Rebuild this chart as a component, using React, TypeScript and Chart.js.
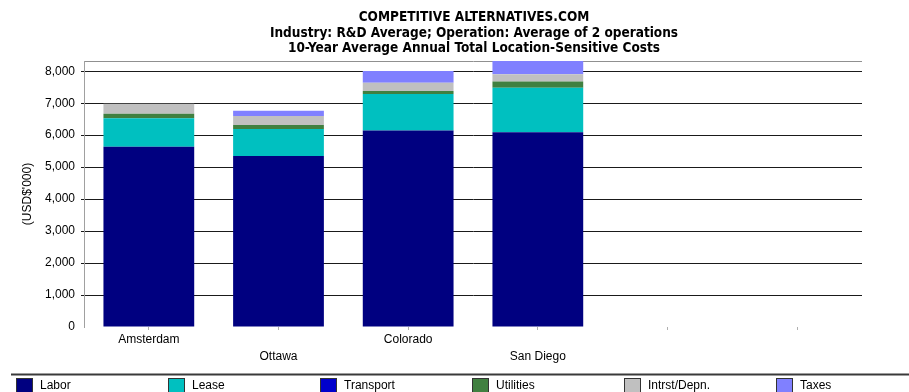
import React, { useEffect, useRef } from 'react';
import { Chart, registerables } from 'chart.js';

Chart.register(...registerables);

const titleLines = [
  'COMPETITIVE ALTERNATIVES.COM',
  'Industry: R&D Average; Operation: Average of 2 operations',
  '10-Year Average Annual Total Location-Sensitive Costs',
];
const categories = ['Amsterdam', 'Ottawa', 'Colorado', 'San Diego', '', ''];
const labor = [5640, 5350, 6150, 6090, null, null];
const lease = [890, 845, 1140, 1395, null, null];
const transport = [0, 0, 0, 0, null, null];
const utilities = [140, 125, 90, 190, null, null];
const intrstDepn = [310, 280, 260, 230, null, null];
const taxes = [0, 165, 370, 415, null, null];
const seriesNames = ['Labor', 'Lease', 'Transport', 'Utilities', 'Intrst/Depn.', 'Taxes'];
const seriesColors = ['#000080', '#00C0C0', '#0000CC', '#408040', '#C0C0C0', '#8080FF'];
const yTickValues = [0, 1000, 2000, 3000, 4000, 5000, 6000, 7000, 8000];
const yMax = 8320;
const yTitle = "(USD$'000)";

const FONT = '"Liberation Sans", Arial, sans-serif';

const titlePlugin = {
  id: 'customTitle',
  afterDraw(chart: any) {
    const { ctx, chartArea } = chart;
    const cx = (chartArea.left + chartArea.right) / 2;
    ctx.save();
    ctx.fillStyle = '#000';
    ctx.font = 'bold 13.5px "Liberation Sans Narrow", "DejaVu Sans Condensed", sans-serif';
    ctx.textAlign = 'center';
    ctx.textBaseline = 'middle';
    titleLines.forEach((t, i) => ctx.fillText(t, cx + 1, 17.5 + i * 15.5));
    ctx.restore();
  },
};

const legendPlugin = {
  id: 'customLegend',
  afterDraw(chart: any) {
    const { ctx } = chart;
    ctx.save();
    ctx.strokeStyle = '#3a3a3a';
    ctx.lineWidth = 2;
    ctx.beginPath();
    ctx.moveTo(11, 374.5);
    ctx.lineTo(909, 374.5);
    ctx.stroke();
    chart.data.datasets.forEach((ds: any, i: number) => {
      const x = 16 + 152 * i;
      ctx.fillStyle = ds.backgroundColor;
      ctx.fillRect(x, 378, 17, 16);
      ctx.strokeStyle = '#333';
      ctx.lineWidth = 1;
      ctx.strokeRect(x + 0.5, 378.5, 16, 15);
      ctx.fillStyle = '#000';
      ctx.font = '12px ' + FONT;
      ctx.textAlign = 'left';
      ctx.textBaseline = 'middle';
      ctx.fillText(ds.label, x + 24, 386);
    });
    ctx.restore();
  },
};

export default function App() {
  const ref = useRef<HTMLCanvasElement>(null);
  useEffect(() => {
    if (!ref.current) return;
    const series = [labor, lease, transport, utilities, intrstDepn, taxes];
    const chart = new Chart(ref.current, {
      type: 'bar',
      data: {
        labels: categories,
        datasets: series.map((d, i) => ({
          label: seriesNames[i],
          data: d,
          backgroundColor: seriesColors[i],
          borderWidth: 0,
          barPercentage: 0.7,
          categoryPercentage: 1,
        })),
      },
      options: {
        animation: false,
        responsive: false,
        devicePixelRatio: 1,
        layout: { padding: { left: 0, right: 47, top: 61, bottom: 27 } },
        plugins: {
          legend: { display: false },
          title: { display: false },
          tooltip: { enabled: false },
        },
        scales: {
          x: {
            stacked: true,
            border: { display: false },
            grid: {
              display: true,
              offset: false,
              drawOnChartArea: false,
              drawTicks: true,
              tickLength: 3,
              tickColor: '#b0b0b0',
            },
            ticks: {
              color: '#000',
              font: { family: FONT, size: 12, lineHeight: 1.4 },
              padding: 1,
              maxRotation: 0,
              autoSkip: false,
              callback: (v: any, i: number) => (i % 2 === 1 ? ['', categories[i]] : categories[i]),
            },
            afterFit: (s: any) => {
              s.height = 38;
            },
          },
          y: {
            stacked: true,
            min: 0,
            max: yMax,
            afterBuildTicks: (s: any) => {
              s.ticks = [...yTickValues, yMax].map((v) => ({ value: v }));
            },
            border: { display: true, color: '#a0a0a0', width: 1 },
            grid: {
              color: (c: any) =>
                c.tick && c.tick.value === 0 ? 'rgba(0,0,0,0)' : c.tick && c.tick.value === yMax ? '#909090' : '#1a1a1a',
              tickColor: (c: any) => (c.tick && (c.tick.value === yMax || c.tick.value === 0) ? 'rgba(0,0,0,0)' : '#1a1a1a'),
              tickLength: 3,
              lineWidth: 1,
            },
            ticks: {
              color: '#000',
              font: { family: FONT, size: 12 },
              padding: 6,
              callback: (v: any) => (yTickValues.includes(Number(v)) ? Number(v).toLocaleString('en-US') : ''),
            },
            title: {
              display: true,
              text: yTitle,
              color: '#000',
              font: { family: FONT, size: 12 },
              padding: { top: 20, bottom: 0 },
            },
            afterFit: (s: any) => {
              s.width = 84;
            },
          },
        },
      },
      plugins: [titlePlugin, legendPlugin],
    } as any);
    return () => chart.destroy();
  }, []);
  return (
    <div style={{ position: 'fixed', left: 0, top: 0, width: 909, height: 392, background: '#fff' }}>
      <canvas ref={ref} width={909} height={392} style={{ width: 909, height: 392, display: 'block' }} />
    </div>
  );
}
